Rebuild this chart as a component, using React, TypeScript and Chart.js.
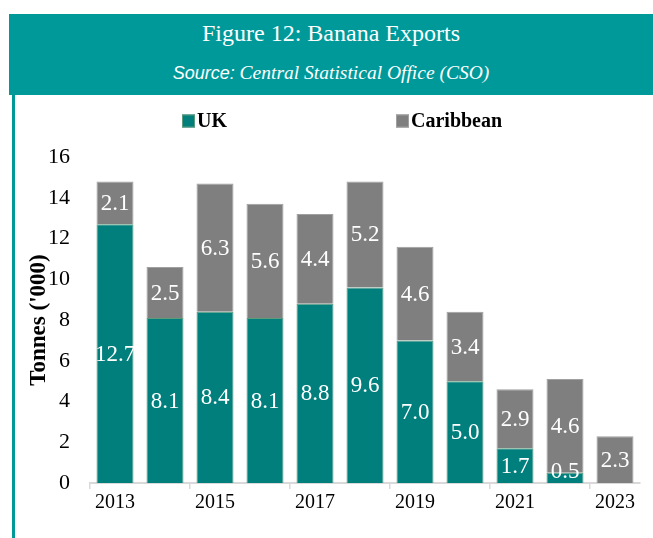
import React, { useEffect, useRef } from "react";
import { Chart, registerables } from "chart.js";

Chart.register(...registerables);

const years = ["2013", "2014", "2015", "2016", "2017", "2018", "2019", "2020", "2021", "2022", "2023"];
const ukValues = [12.7, 8.1, 8.4, 8.1, 8.8, 9.6, 7.0, 5.0, 1.7, 0.5, 0];
const caribbeanValues = [2.1, 2.5, 6.3, 5.6, 4.4, 5.2, 4.6, 3.4, 2.9, 4.6, 2.3];
const seriesNames = ["UK", "Caribbean"];

const TEAL_BAND = "#00999a";
const UK_COLOR = "#007f7d";
const UK_BORDER = "#5c9c7c";
const CAR_COLOR = "#7f7f7f";
const CAR_BORDER = "#a0a0a0";
const SERIF = "'Liberation Serif', 'DejaVu Serif', serif";

const labelPlugin = {
  id: "segLabels",
  afterDatasetsDraw(chart: any) {
    const ctx = chart.ctx;
    ctx.save();
    ctx.font = `23px ${SERIF}`;
    ctx.fillStyle = "#ffffff";
    ctx.textAlign = "center";
    ctx.textBaseline = "middle";
    chart.data.datasets.forEach((ds: any, di: number) => {
      const meta = chart.getDatasetMeta(di);
      meta.data.forEach((bar: any, i: number) => {
        const v = ds.data[i];
        if (!v) return;
        let y = (bar.y + bar.base) / 2;
        if (y > bar.base - 12) y = bar.base - 12;
        ctx.fillText(v.toFixed(1), bar.x, y + 1);
      });
    });
    ctx.restore();
  },
};

const legendPlugin = {
  id: "customLegend",
  afterDraw(chart: any) {
    const ctx = chart.ctx;
    ctx.save();
    ctx.font = `bold 20px ${SERIF}`;
    ctx.textBaseline = "middle";
    ctx.textAlign = "left";
    const y = 26;
    const starts = [167, 381];
    chart.data.datasets.forEach((ds: any, i: number) => {
      const x = starts[i];
      ctx.fillStyle = ds.backgroundColor;
      ctx.fillRect(x, y - 6.5, 13, 13);
      ctx.strokeStyle = ds.borderColor;
      ctx.lineWidth = 1;
      ctx.strokeRect(x + 0.5, y - 6, 12, 12);
      ctx.fillStyle = "#000000";
      ctx.fillText(ds.label, x + 15, y + 1);
    });
    ctx.restore();
  },
};

function BananaChart() {
  const ref = useRef<HTMLCanvasElement | null>(null);
  useEffect(() => {
    if (!ref.current) return;
    const chart = new Chart(ref.current, {
      type: "bar",
      data: {
        labels: years,
        datasets: [
          {
            label: seriesNames[0],
            data: ukValues,
            backgroundColor: UK_COLOR,
            borderColor: UK_BORDER,
            borderWidth: 1,
            barPercentage: 0.74,
            categoryPercentage: 1,
          },
          {
            label: seriesNames[1],
            data: caribbeanValues,
            backgroundColor: CAR_COLOR,
            borderColor: CAR_BORDER,
            borderWidth: 1,
            barPercentage: 0.74,
            categoryPercentage: 1,
          },
        ],
      },
      options: {
        animation: false,
        responsive: false,
        maintainAspectRatio: false,
        layout: { padding: { top: 62, right: 13, bottom: 21, left: 0 } },
        plugins: {
          legend: { display: false },
          tooltip: { enabled: false },
        },
        scales: {
          x: {
            stacked: true,
            grid: {
              display: true,
              offset: true,
              drawOnChartArea: false,
              drawTicks: true,
              tickLength: 6,
              lineWidth: 1.5,
              color: (c: any) => (c.index !== undefined && c.index % 2 === 0 ? "#d9d9d9" : "rgba(0,0,0,0)"),
            },
            border: { display: true, color: "#d9d9d9", width: 2 },
            ticks: {
              autoSkip: false,
              maxRotation: 0,
              padding: 2,
              color: "#000000",
              font: { family: SERIF, size: 20 },
              callback: (_v: any, i: number) => (i % 2 === 0 ? years[i] : ""),
            },
          },
          y: {
            stacked: true,
            min: 0,
            max: 16,
            afterFit: (s: any) => {
              s.width = 75;
            },
            grid: { display: false, drawTicks: false },
            border: { display: false },
            ticks: {
              stepSize: 2,
              padding: 20,
              color: "#000000",
              font: { family: SERIF, size: 22 },
            },
            title: {
              display: true,
              text: "Tonnes ('000)",
              color: "#000000",
              font: { family: SERIF, size: 23, weight: "bold" },
              padding: { top: 10, bottom: 0 },
            },
          },
        },
      },
      plugins: [labelPlugin, legendPlugin],
    });
    return () => chart.destroy();
  }, []);
  return <canvas ref={ref} width={638} height={443} style={{ display: "block", width: 638, height: 443 }} />;
}

export default function App() {
  return (
    <div style={{ position: "absolute", left: 0, top: 0, width: 653, height: 538, background: "#ffffff", overflow: "hidden" }}>
      <div
        style={{
          position: "absolute",
          left: 9,
          top: 14,
          width: 644,
          height: 81,
          background: TEAL_BAND,
          color: "#ffffff",
          textAlign: "center",
        }}
      >
        <div style={{ position: "absolute", left: 0, right: 0, top: 1, height: 36, lineHeight: "36px", fontFamily: SERIF, fontSize: 24 }}>
          Figure 12: Banana Exports
        </div>
        <div style={{ position: "absolute", left: 0, right: 0, top: 42, height: 34, lineHeight: "34px", fontSize: 19.5 }}>
          <span style={{ fontFamily: "'Liberation Sans', 'Open Sans', sans-serif", fontStyle: "italic", fontSize: 18 }}>Source:</span>
          <span style={{ fontFamily: SERIF, fontStyle: "italic" }}> Central Statistical Office (CSO)</span>
        </div>
      </div>
      <div style={{ position: "absolute", left: 12, top: 95, width: 3, height: 443, background: TEAL_BAND }} />
      <div style={{ position: "absolute", left: 15, top: 95 }}>
        <BananaChart />
      </div>
    </div>
  );
}
